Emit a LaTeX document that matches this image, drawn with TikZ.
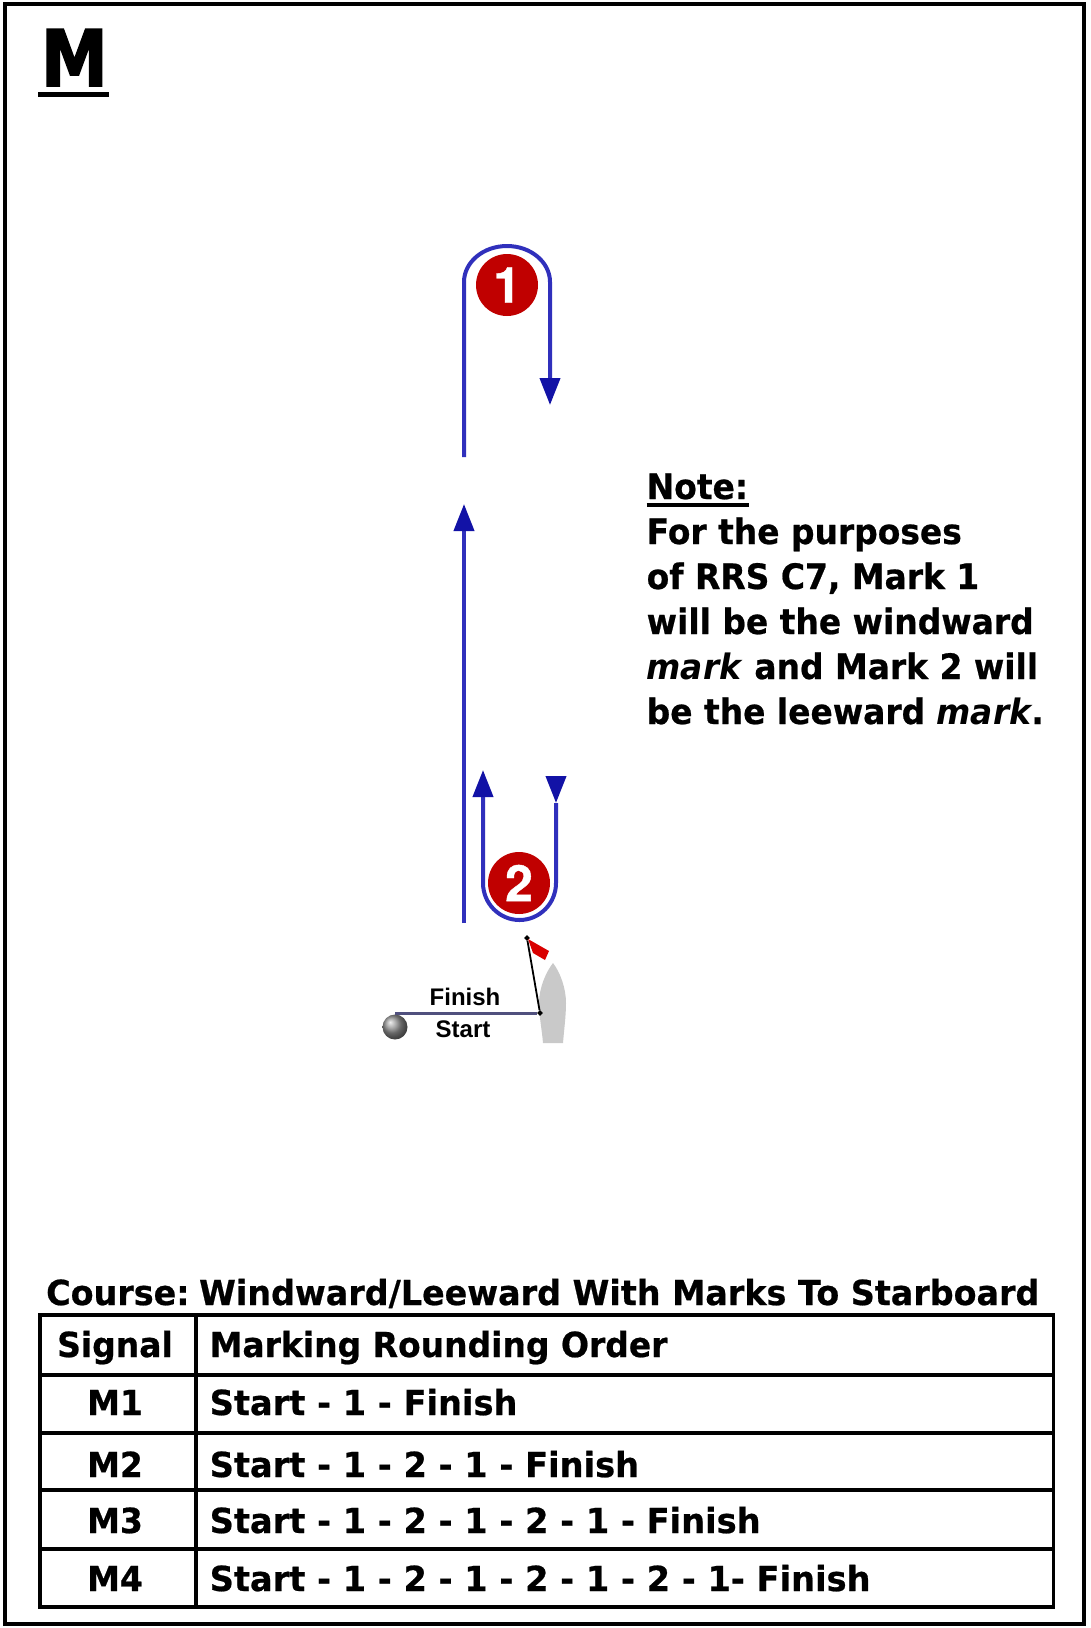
\documentclass[tikz,border=0pt]{standalone}
\usepackage{fontspec}
\setmainfont[FakeStretch=0.94,BoldFeatures={FakeBold=0.6}]{DejaVu Sans}
\newfontfamily\headfont[FakeStretch=0.86,BoldFeatures={FakeBold=2}]{DejaVu Sans}
\newfontfamily\tablefont[FakeStretch=0.955,BoldFeatures={FakeBold=0.6}]{DejaVu Sans}
\newfontfamily\coursefont[FakeStretch=0.967,BoldFeatures={FakeBold=0.6}]{DejaVu Sans}
\newfontfamily\orderfont[FakeStretch=0.975,BoldFeatures={FakeBold=0.6}]{DejaVu Sans}
\newfontfamily\linefont{Liberation Sans}
\newfontfamily\markfont[BoldFeatures={FakeBold=0.8}]{TeX Gyre Heros}
\usetikzlibrary{arrows.meta,positioning,shapes.geometric}
\definecolor{legblue}{HTML}{3030BC}
\definecolor{headblue}{HTML}{1212A6}
\definecolor{markred}{HTML}{C00000}
\definecolor{startline}{HTML}{50507E}
\definecolor{boatgrey}{HTML}{C9C9C9}

\begin{document}
\begin{tikzpicture}[x=1pt,y=-1pt,
                    leg/.style={draw=legblue,line width=4pt},
                    legtip/.style={leg,-{Triangle[length=27pt,width=20pt,fill=headblue,color=headblue]}},
                    roundmark/.style={circle,fill=markred,text=white,minimum size=62pt,inner sep=0pt,font=\markfont\fontsize{50}{50}\bfseries},
                    grid/.style={line width=3.6pt},
                    notetext/.style={anchor=base west,inner sep=0pt,align=left,font=\fontsize{35}{45}\bfseries},
                    celltext/.style={anchor=base,inner sep=0pt,font=\tablefont\fontsize{34.5}{40}\bfseries},
                    rowtext/.style={anchor=base west,inner sep=0pt,font=\tablefont\fontsize{34.5}{40}\bfseries},
                    ordertext/.style={anchor=base west,inner sep=0pt,font=\orderfont\fontsize{34.5}{40}\bfseries},
                    linetext/.style={anchor=base,inner sep=0pt,font=\linefont\fontsize{24}{24}\bfseries},
                    pin/.style={diamond,fill=black,inner sep=0pt,minimum size=6pt}]
\useasboundingbox (0,0) rectangle (1090,1628);
\fill[white] (0,0) rectangle (1090,1628);
\draw[line width=4pt] (5,4) rectangle (1084,1624);

\node[anchor=base,inner sep=0pt,font=\headfont\fontsize{78}{78}\bfseries] (title) at (74.5,86) {M};
\coordinate (titlel) at (38,94.5);
\coordinate (titler) at (109,94.5);
\draw[line width=5pt] (titlel) -- (titler);

% first leg and mark 1
\node[roundmark] (mark1) at (507,285) {1};
\coordinate (upfoot) at (464,923);
\coordinate (uptip) at (464,504);
\coordinate (overfoot) at (464,457);
\coordinate (overl) at (464,282);
\coordinate (overtip) at (550,405);
\draw[legtip] (upfoot) -- (uptip);
\draw[legtip] (overfoot) -- (overl) arc[x radius=43pt,y radius=36pt,start angle=180,end angle=0] -- (overtip);

% mark 2
\node[roundmark] (mark2) at (519,883) {2};
\coordinate (downtop) at (556,780);
\coordinate (downtip) at (556,803);
\coordinate (roundr) at (556,883);
\coordinate (backtip) at (483,770);
\draw[legtip] (downtop) -- (downtip);
\draw[legtip] (downtip) -- (roundr) arc[x radius=36.5pt,y radius=37pt,start angle=0,end angle=-180] -- (backtip);

% start line
\fill[boatgrey] (553,963) .. controls (560,972) and (566,988) .. (566,1003)
  .. controls (566,1016) and (564,1030) .. (563,1043) -- (543,1043)
  .. controls (542,1030) and (539,1016) .. (539,1003)
  .. controls (539,988) and (546,972) .. (553,963) -- cycle;
\node[circle,shading=ball,ball color=gray!85,minimum size=25pt,inner sep=0pt] (ball) at (395,1027) {};
\node[pin] (poletop) at (527,938) {};
\node[pin] (polefoot) at (540,1013) {};
\coordinate (ballpin) at (395,1013);
\draw[startline,line width=3pt] (ballpin) -- (polefoot);
\draw[line width=1.8pt] (poletop) -- (polefoot);
\fill[red!85!black] (528,939) -- (549,951) -- (545,960) -- (533,953) -- cycle;
\node[linetext] (finish) at (465,1005) {Finish};
\node[linetext] (start) at (463,1037) {Start};

% note
\node[notetext] (note) at (646.5,724) {\rlap{\rule[-8pt]{102pt}{4pt}}Note:\\
For the purposes\\
of RRS C7, Mark 1\\
will be the windward\\
\textit{mark} and Mark 2 will\\
be the leeward \textit{mark}.};

% table
\node[rowtext,font=\coursefont\fontsize{34.5}{40}\bfseries] (course) at (46,1305) {Course:\hspace{-6pt} Windward/Leeward With Marks To Starboard};
\coordinate (tabnw) at (40,1315);
\coordinate (tabse) at (1053.5,1607);
\draw[grid] (tabnw) rectangle (tabse);
\draw[grid] (196,1315) -- (196,1607);
\foreach \rowy in {1375,1433,1490,1549}
  \draw[grid] (40,\rowy) -- (1053.5,\rowy);

\node[celltext] (sig0) at (115,1357) {Signal};
\node[rowtext] (ord0) at (209.5,1357) {Marking Rounding Order};
\node[celltext] (sig1) at (115,1415) {M1};
\node[ordertext] (ord1) at (209.5,1415) {Start - 1 - Finish};
\node[celltext] (sig2) at (115,1477) {M2};
\node[ordertext] (ord2) at (209.5,1477) {Start - 1 - 2 - 1 - Finish};
\node[celltext] (sig3) at (115,1533) {M3};
\node[ordertext] (ord3) at (209.5,1533) {Start - 1 - 2 - 1 - 2 - 1 - Finish};
\node[celltext] (sig4) at (115,1591) {M4};
\node[ordertext] (ord4) at (209.5,1591) {Start - 1 - 2 - 1 - 2 - 1 - 2 - 1- Finish};
\end{tikzpicture}
\end{document}
